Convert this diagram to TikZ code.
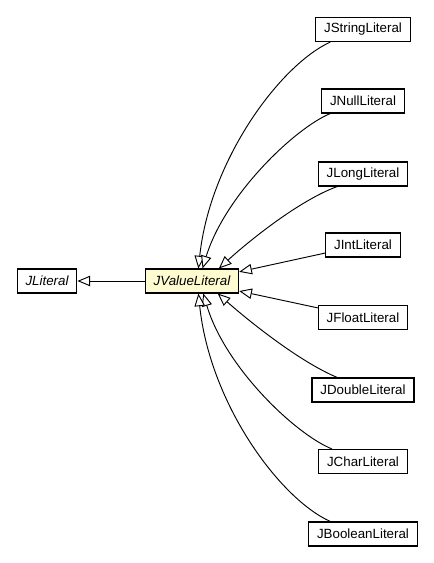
\documentclass[tikz,border=0pt]{standalone}
\usepackage{fontspec}
\setmainfont{Liberation Sans}
\usetikzlibrary{arrows.meta,positioning}
\definecolor{ink}{HTML}{000000}
\definecolor{notefill}{HTML}{FFFBD0}
\tikzset{
  every node/.style={text=ink},
  cls/.style={draw=ink, fill=white, line width=.8pt, inner xsep=6.3pt,
    inner ysep=0pt, minimum height=18pt,
    font=\fontsize{10}{12}\selectfont},
  abstractcls/.style={cls, font=\fontsize{10}{12}\selectfont\itshape},
  focus/.style={abstractcls, fill=notefill},
  extends/.style={-{Triangle[length=9.5pt,width=7.8pt,fill=white]},
    draw=ink, line width=.7pt}
}
\begin{document}
\begin{tikzpicture}[x=.75pt,y=-.75pt]
\useasboundingbox (0,0) rectangle (433,563);

% Base classes.
\node[abstractcls] (lit) at (47,281) {JLiteral};
\node[focus] (vlit) at (192,281) {JValueLiteral};

% Concrete literals, one rank on the right.
\node[cls] (str) at (363,29.5) {JStringLiteral};
\node[cls] (nul) at (363,101) {JNullLiteral};
\node[cls] (lng) at (363,174) {JLongLiteral};
\node[cls] (int) at (363,245) {JIntLiteral};
\node[cls] (flt) at (363,317.5) {JFloatLiteral};
\node[cls] (dbl) at (363,390) {JDoubleLiteral};
\node[cls] (chr) at (363,461.5) {JCharLiteral};
\node[cls] (bool) at (363,534) {JBooleanLiteral};

\draw[extends] (vlit) -- (lit);

% Inheritance splines into JValueLiteral.
\draw[extends] (str.201) .. controls (280,65) and (210,160) .. (vlit.63);
\draw[extends] (nul.201) .. controls (295,128) and (225,195) .. (vlit.50);
\draw[extends] (lng.206) .. controls (300,200) and (250,240) .. (vlit.25);
\draw[extends] (int.192) -- (vlit.11);
\draw[extends] (flt.168) -- (vlit.-12);
\draw[extends] (dbl.154) .. controls (300,362) and (250,322) .. (vlit.-26);
\draw[extends] (chr.158) .. controls (295,434) and (225,367) .. (vlit.-48);
\draw[extends] (bool.159) .. controls (280,499) and (210,404) .. (vlit.-63);

\end{tikzpicture}
\end{document}
